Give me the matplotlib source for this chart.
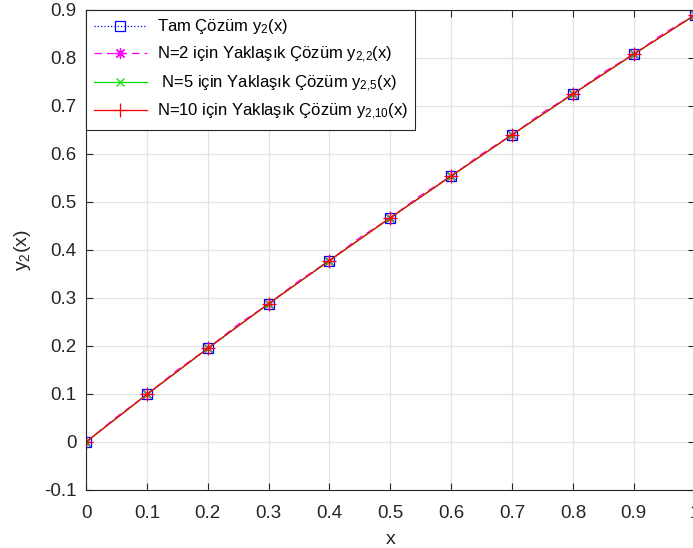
import matplotlib.pyplot as plt

plt.rcParams["font.family"] = ["Liberation Sans", "DejaVu Sans"]
plt.rcParams["mathtext.fontset"] = "custom"
plt.rcParams["mathtext.rm"] = "Liberation Sans"
plt.rcParams["mathtext.it"] = "Liberation Sans"

x = [0, 0.1, 0.2, 0.3, 0.4, 0.5, 0.6, 0.7, 0.8, 0.9, 1.0]
y_exact = [0, 0.099, 0.195, 0.288, 0.378, 0.467, 0.554, 0.640, 0.725, 0.808, 0.889]
y_n5 = [0, 0.099, 0.195, 0.288, 0.378, 0.467, 0.554, 0.640, 0.725, 0.808, 0.889]
y_n10 = [0, 0.099, 0.195, 0.288, 0.378, 0.467, 0.554, 0.640, 0.725, 0.808, 0.889]

# N=2 curve drawn on a finer grid, markers only on the 0.1 steps
x_fine = [0, 0.05, 0.1, 0.15, 0.2, 0.25, 0.3, 0.35, 0.4, 0.45, 0.5,
          0.55, 0.6, 0.65, 0.7, 0.75, 0.8, 0.85, 0.9, 0.95, 1.0]
y_n2 = [0, 0.052, 0.099, 0.150, 0.195, 0.245, 0.288, 0.336, 0.378, 0.426, 0.467,
        0.514, 0.554, 0.600, 0.640, 0.686, 0.725, 0.770, 0.808, 0.852, 0.889]

labels = [
    r"Tam Çözüm $\mathregular{y_{2}}$(x)",
    r"N=2 için Yaklaşık Çözüm $\mathregular{y_{2{,}2}}$(x)",
    r" N=5 için Yaklaşık Çözüm $\mathregular{y_{2{,}5}}$(x)",
    r"N=10 için Yaklaşık Çözüm $\mathregular{y_{2{,}10}}$(x)",
]

fig = plt.figure(figsize=(6.93, 5.48), dpi=100)
ax = fig.add_axes([86 / 693, 58 / 548, 608.6 / 693, 480 / 548])

ax.plot(x, y_exact, color="#0000ff", linestyle=":", linewidth=0.9,
        marker="s", markersize=6.5, markerfacecolor="none", markeredgewidth=0.9,
        label=labels[0])
ax.plot(x_fine, y_n2, color="#ff00ff", linestyle=(0, (6, 4)), linewidth=0.9,
        marker=(8, 2, 0), markevery=2, markersize=8, markeredgewidth=0.9,
        label=labels[1])
ax.plot(x, y_n5, color="#00dd00", linestyle="-", linewidth=0.9,
        marker="x", markersize=6, markeredgewidth=0.9, label=labels[2])
ax.plot(x, y_n10, color="#ff0000", linestyle="-", linewidth=0.9,
        marker="+", markersize=10, markeredgewidth=0.9, label=labels[3])

ax.set_xlim(0, 1)
ax.set_ylim(-0.1, 0.9)
ax.set_xticks([0, 0.1, 0.2, 0.3, 0.4, 0.5, 0.6, 0.7, 0.8, 0.9, 1.0])
ax.set_xticklabels(["0", "0.1", "0.2", "0.3", "0.4", "0.5", "0.6", "0.7", "0.8", "0.9", "1"])
ax.set_yticks([-0.1, 0, 0.1, 0.2, 0.3, 0.4, 0.5, 0.6, 0.7, 0.8, 0.9])
ax.set_yticklabels(["-0.1", "0", "0.1", "0.2", "0.3", "0.4", "0.5", "0.6", "0.7", "0.8", "0.9"])

ax.grid(True, color="#e3e3e3", linewidth=0.9)
ax.set_axisbelow(True)
ax.tick_params(direction="in", top=True, right=True, length=5, width=0.8,
               labelsize=13.5, colors="#262626")
ax.tick_params(axis="y", pad=7)
ax.tick_params(axis="x", pad=11)
for s in ax.spines.values():
    s.set_color("#262626")
    s.set_linewidth(0.8)

ax.set_xlabel("x", fontsize=14, color="#262626", labelpad=6)
ax.set_ylabel(r"$\mathregular{y_{2}}$(x)", fontsize=14, color="#262626", labelpad=8)

leg = ax.legend(loc="upper left", bbox_to_anchor=(0, 1), borderaxespad=0,
                fontsize=12, fancybox=False, framealpha=1, edgecolor="#262626",
                handlelength=3.2, labelspacing=0.5, borderpad=0.45, handletextpad=0.6)
leg.get_frame().set_linewidth(0.8)

fig.savefig("out.png", dpi=100)
